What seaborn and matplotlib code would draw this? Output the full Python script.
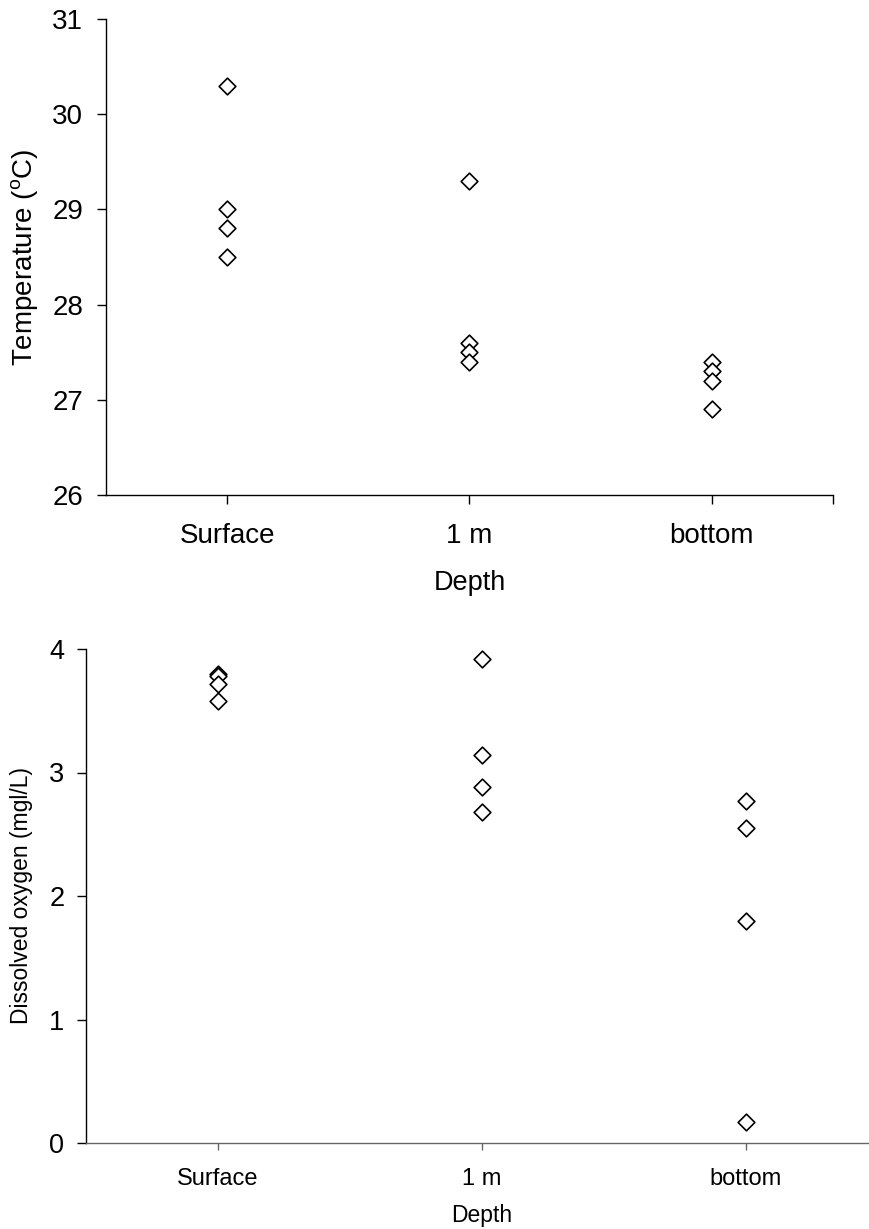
import matplotlib
matplotlib.use("Agg")
import matplotlib.pyplot as plt
import seaborn as sns
import pandas as pd

depths = ["Surface", "1 m", "bottom"]
temp_surface = [30.3, 29.0, 28.8, 28.5]
temp_1m = [29.3, 27.6, 27.5, 27.4]
temp_bottom = [27.4, 27.3, 27.2, 26.9]
do_surface = [3.80, 3.78, 3.72, 3.58]
do_1m = [3.92, 3.14, 2.88, 2.68]
do_bottom = [2.77, 2.55, 1.80, 0.17]
temp_ticks = [26, 27, 28, 29, 30, 31]
do_ticks = [0, 1, 2, 3, 4]

sns.set_style("ticks")
plt.rcParams["font.family"] = ["Liberation Sans", "DejaVu Sans"]
plt.rcParams["mathtext.fontset"] = "custom"
plt.rcParams["mathtext.rm"] = "Liberation Sans"
plt.rcParams["mathtext.it"] = "Liberation Sans"
plt.rcParams["text.color"] = "black"
plt.rcParams["axes.labelcolor"] = "black"
plt.rcParams["xtick.color"] = "black"
plt.rcParams["ytick.color"] = "black"

temp_df = pd.DataFrame({
    "Depth": [d for d, v in zip(depths, [temp_surface, temp_1m, temp_bottom]) for _ in v],
    "Value": temp_surface + temp_1m + temp_bottom,
})
do_df = pd.DataFrame({
    "Depth": [d for d, v in zip(depths, [do_surface, do_1m, do_bottom]) for _ in v],
    "Value": do_surface + do_1m + do_bottom,
})

W, H = 870, 1229
fig = plt.figure(figsize=(W / 100, H / 100), dpi=100)
ax1 = fig.add_axes([106 / W, 1 - 495 / H, (833 - 106) / W, (495 - 19) / H])
ax2 = fig.add_axes([86 / W, 1 - 1143 / H, 792 / W, (1143 - 649) / H])

for ax, df, ticks, ylab, tsz, xsz, lsz, xlsz in [
    (ax1, temp_df, temp_ticks, r"Temperature ($^{\mathrm{o}}$C)", 20, 20, 20, 19.5),
    (ax2, do_df, do_ticks, "Dissolved oxygen (mgl/L)", 19.5, 17, 16.5, 16.5),
]:
    sns.stripplot(data=df, x="Depth", y="Value", order=depths, jitter=False,
                  marker="D", color="white", edgecolor="black", linewidth=1.2,
                  size=8.5, ax=ax, zorder=3)
    ax.set_xlim(-0.5, 2.5)
    ax.set_ylim(ticks[0], ticks[-1])
    ax.set_yticks(ticks)
    ax.set_yticklabels([str(t) for t in ticks], fontsize=tsz)
    ax.set_xticks(range(len(depths)))
    ax.set_xticklabels(depths, fontsize=xsz)
    ax.set_xlabel("Depth", fontsize=xlsz)
    ax.set_ylabel(ylab, fontsize=lsz)
    sns.despine(ax=ax)
    for s in ["left", "bottom"]:
        ax.spines[s].set_linewidth(1.0)
        ax.spines[s].set_color("black")
    ax.tick_params(axis="both", direction="out", length=6.5, width=1.0, color="black")
    ax.grid(False)

ax1.set_xticks([2.5], minor=True)
ax1.tick_params(axis="x", which="minor", length=6.5, width=1.0)
ax1.tick_params(axis="x", pad=14)
ax1.tick_params(axis="y", pad=10)
ax1.xaxis.labelpad = 15
ax1.yaxis.labelpad = 9

ax2.spines["bottom"].set_color("#666666")
ax2.tick_params(axis="x", color="#666666", length=5, pad=13)
ax2.tick_params(axis="y", pad=9)
ax2.xaxis.labelpad = 10
ax2.yaxis.labelpad = 12

fig.savefig("out.png", dpi=100, facecolor="white")
